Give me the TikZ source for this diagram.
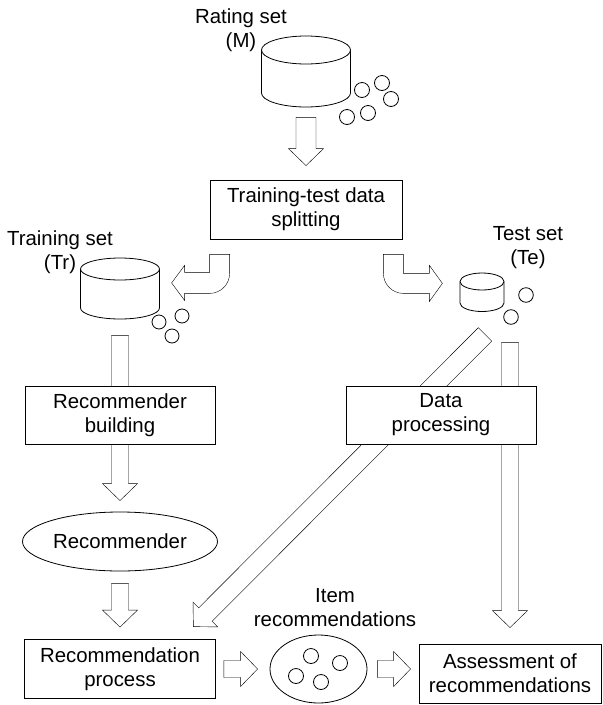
\documentclass[tikz,border=0pt]{standalone}
\usepackage{fontspec}
\setmainfont{Liberation Sans}
\usetikzlibrary{calc,shapes.geometric}
\pgfdeclarelayer{background}
\pgfsetlayers{background,main}

\tikzset{
  stage/.style={draw, fill=white, inner sep=0pt, align=center, font=\fontsize{20.4}{24}\selectfont},
  blob/.style={draw, fill=white, ellipse, inner sep=0pt, font=\fontsize{20.4}{24}\selectfont},
  caption/.style={inner sep=0pt, align=center, font=\fontsize{20.4}{24}\selectfont}
}

% hollow block arrow from #2 to #3, #1 = half the shaft width
\newcommand{\fatarrow}[3][8.5pt]{%
  \draw[fill=white] let \p1=($(#3)-(#2)$), \n1={atan2(\y1,\x1)} in
    ($(#2)+({\n1+90}:#1)$) -- ($(#3)+({\n1+180}:17pt)+({\n1+90}:#1)$)
    -- ($(#3)+({\n1+180}:17pt)+({\n1+90}:17.5pt)$) -- (#3)
    -- ($(#3)+({\n1+180}:17pt)+({\n1-90}:17.5pt)$)
    -- ($(#3)+({\n1+180}:17pt)+({\n1-90}:#1)$)
    -- ($(#2)+({\n1-90}:#1)$) -- cycle;}

% data set drum: name, centre of top (x,y), x radius, y radius, side height
\newcommand{\datacyl}[6]{%
  \draw[fill=white] (#2-#4,#3) -- ++(0,#6) arc[start angle=180,end angle=360,x radius=#4pt,y radius=#5pt] -- (#2+#4,#3);
  \draw[fill=white] (#2,#3) ellipse[x radius=#4pt,y radius=#5pt];
  \node[inner sep=0pt, minimum width=2*#4pt, minimum height=#6pt+2*#5pt] (#1) at (#2,#3+#6/2) {};}

\begin{document}
\begin{tikzpicture}[x=1pt,y=-1pt,line width=0.8pt]
\useasboundingbox (0,0) rectangle (603,705);

\datacyl{M}{306}{50}{44.5}{14}{43}
\datacyl{Tr}{120}{269}{39.5}{11}{39}
\datacyl{Te}{482}{281.5}{22}{8.5}{21.5}

\node[caption] (m-lbl) at (241,30) {Rating set\\(M)};
\node[caption] (tr-lbl) at (60,252.5) {Training set\\(Tr)};
\node[caption] (te-lbl) at (528,248) {Test set\\(Te)};
\node[caption] (item-lbl) at (335,607.5) {Item\\recommendations};

\draw[fill=white] (362,90) circle[radius=7.5pt];
\draw[fill=white] (382,83) circle[radius=7.5pt];
\draw[fill=white] (391,99) circle[radius=7.5pt];
\draw[fill=white] (368,113) circle[radius=7.5pt];
\draw[fill=white] (347,117) circle[radius=7.5pt];

\draw[fill=white] (159,322) circle[radius=7pt];
\draw[fill=white] (182,316) circle[radius=7pt];
\draw[fill=white] (172,336) circle[radius=7pt];

\draw[fill=white] (526,295) circle[radius=7.3pt];
\draw[fill=white] (511,317) circle[radius=7.3pt];

\node[stage, minimum width=192pt, minimum height=59pt] (split) at (306,209.5) {Training-test data\\splitting};
\node[stage, minimum width=190pt, minimum height=58pt] (build) at (120,415) {Recommender\\building};
\node[stage, minimum width=190pt, minimum height=58pt] (dataproc) at (441,415) {Data\\processing};
\node[blob, minimum width=195pt, minimum height=59pt] (recr) at (120,541.5) {Recommender};
\node[stage, minimum width=191pt, minimum height=59pt] (recproc) at (120,669) {Recommendation\\process};
\node[blob, minimum width=97pt, minimum height=68pt] (item) at (318.5,669) {};
\node[stage, minimum width=182pt, minimum height=59pt] (assess) at (510,673.5) {Assessment of\\recommendations};

\draw[fill=white] (311,656) circle[radius=7.5pt];
\draw[fill=white] (340,663) circle[radius=7.5pt];
\draw[fill=white] (296,676) circle[radius=7.5pt];
\draw[fill=white] (321,682) circle[radius=7.5pt];

\coordinate (m-out) at ($(M.south)+(0,10)$);
\coordinate (split-in) at ($(split.north)+(0,-14)$);
\coordinate (tr-out) at ($(Tr.south)+(0,16)$);
\coordinate (recr-in) at ($(recr.north)+(0,-11)$);
\coordinate (recr-out) at ($(recr.south)+(0,12)$);
\coordinate (recproc-in) at ($(recproc.north)+(0,-12)$);
\coordinate (te-diag) at ($(Te.south)+(3,22.5)$);
\coordinate (recproc-diag) at ($(recproc.north east)+(-22.5,-12.5)$);
\coordinate (te-down) at ($(Te.south)+(28,30.5)$);
\coordinate (assess-in) at ($(assess.north)+(0,-16)$);
\coordinate (recproc-out) at ($(recproc.east)+(8,0)$);
\coordinate (item-in) at ($(item.west)+(-12,0)$);
\coordinate (item-out) at ($(item.east)+(10,0)$);
\coordinate (assess-side) at ($(assess.west)+(-8,-4.5)$);

\begin{pgfonlayer}{background}
\fatarrow[10pt]{m-out}{split-in}
\fatarrow{tr-out}{recr-in}
\fatarrow{recr-out}{recproc-in}
\fatarrow[9.5pt]{te-diag}{recproc-diag}
\fatarrow{te-down}{assess-in}
\fatarrow{recproc-out}{item-in}
\fatarrow{item-out}{assess-side}
\end{pgfonlayer}

% split into training and test parts
\draw[fill=white] ($(split.south west)+(0,15)$) -- ++(20,0) -- ++(0,19)
  arc[start angle=0,end angle=-90,radius=20pt] -- ++(-25,0) -- ++(0,7)
  -- ++(-13,-17.5) -- ++(13,-17.5) -- ++(0,7) -- ++(25,0) -- cycle;
\draw[fill=white] ($(split.south east)+(-19,15)$) -- ++(20,0) -- ++(0,19)
  -- ++(26,0) -- ++(0,-8) -- ++(13,18) -- ++(-13,18) -- ++(0,-8) -- ++(-26,0)
  arc[start angle=270,end angle=180,radius=20pt] -- cycle;
\end{tikzpicture}
\end{document}
